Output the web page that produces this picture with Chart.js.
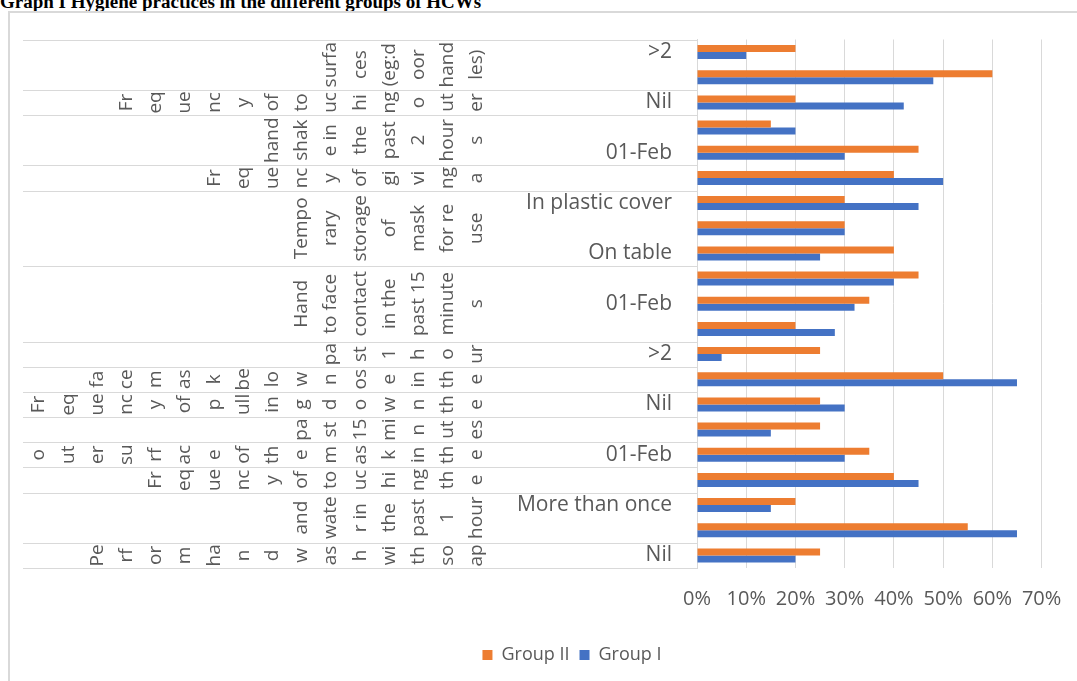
<!DOCTYPE html>
<html>
<head>
<meta charset="utf-8">
<title>Graph I Hygiene practices in the different groups of HCWs</title>
<script src="https://cdn.jsdelivr.net/npm/chart.js@4.4.1/dist/chart.umd.min.js"></script>
<style>
  html, body { margin: 0; padding: 0; background: #fff; overflow: hidden; }
  body { width: 1077px; height: 681px; position: relative; }
  #title {
    position: absolute; left: 0; top: -9px;
    font: bold 19px "Liberation Serif", "Times New Roman", serif;
    color: #000; white-space: nowrap;
  }
  #frame {
    position: absolute; left: 8px; top: 11px;
    width: 1128px; height: 700px;
    border: 2px solid #d9d9d9; box-sizing: border-box;
  }
  #wrap { position: absolute; left: 0; top: 0; width: 1124px; height: 668px; }
</style>
</head>
<body>
<div id="title">Graph I Hygiene practices in the different groups of HCWs</div>
<div id="frame">
  <div id="wrap"><canvas id="chart"></canvas></div>
</div>
<script>
// inner category labels, top to bottom (Excel skipped every other one)
const categories = ['>2', '', 'Nil', '', '01-Feb', '', 'In plastic cover', '', 'On table', '',
  '01-Feb', '', '>2', '', 'Nil', '', '01-Feb', '', 'More than once', '', 'Nil'];

const groupII = [20, 60, 20, 15, 45, 40, 30, 30, 40, 45, 35, 20, 25, 50, 25, 25, 35, 40, 20, 55, 25];
const groupI = [10, 48, 42, 20, 30, 50, 45, 30, 25, 40, 32, 28, 5, 65, 30, 15, 30, 45, 15, 65, 20];

// outer labels as Excel wrapped them ("|" = line break), and how many rows each covers
const outerLabels = [
  'surfa|ces|(eg:d|oor|hand|les)',
  'Fr|eq|ue|nc|y|of|to|uc|hi|ng|o|ut|er',
  'hand|shak|e in|the|past|2|hour|s',
  'Fr|eq|ue|nc|y|of|gi|vi|ng|a',
  'Tempo|rary|storage|of|mask|for re|use',
  'Hand|to face|contact|in the|past 15|minute|s',
  'pa|st|1|h|o|ur',
  'fa|ce|m|as|k|be|lo|w|n|os|e|in|th|e',
  'Fr|eq|ue|nc|y|of|p|ull|in|g|d|o|w|n|th|e',
  'pa|st|15|mi|n|ut|es',
  'o|ut|er|su|rf|ac|e|of|th|e|m|as|k|in|th|e',
  'Fr|eq|ue|nc|y|of|to|uc|hi|ng|th|e',
  'and|wate|r in|the|past|1|hour',
  'Pe|rf|or|m|ha|n|d|w|as|h|wi|th|so|ap'
];
const outerSpans = [2, 1, 2, 1, 3, 3, 1, 1, 1, 1, 1, 1, 2, 1];

const xTicks = [0, 10, 20, 30, 40, 50, 60, 70];

const txtColor = '#595959';
const lineColor = '#d9d9d9';
const fontFamily = '"Open Sans", "Noto Sans", sans-serif';

// draws the second level of the category axis: separators and rotated text
const outerAxis = {
  id: 'outerAxis',
  afterDraw(chart) {
    const ctx = chart.ctx;
    const area = chart.chartArea;
    const rowH = (area.bottom - area.top) / categories.length;
    const x0 = 13;
    const lastCol = area.left - 220;
    const pitch = 29.2;

    ctx.save();
    ctx.strokeStyle = lineColor;
    ctx.lineWidth = 1;
    ctx.beginPath();
    ctx.moveTo(x0, Math.round(area.top) + 0.5);
    ctx.lineTo(area.left, Math.round(area.top) + 0.5);
    ctx.stroke();

    ctx.fillStyle = txtColor;
    ctx.font = '19px ' + fontFamily;
    ctx.textAlign = 'center';
    ctx.textBaseline = 'middle';

    let k = 0;
    outerSpans.forEach((span, g) => {
      const y0 = area.top + k * rowH;
      const y1 = y0 + span * rowH;
      ctx.beginPath();
      ctx.moveTo(x0, Math.round(y1) + 0.5);
      ctx.lineTo(area.left, Math.round(y1) + 0.5);
      ctx.stroke();

      const lines = outerLabels[g].split('|');
      const yc = (y0 + y1) / 2;
      lines.forEach((t, i) => {
        const x = lastCol - (lines.length - 1 - i) * pitch;
        ctx.save();
        ctx.translate(x, yc);
        ctx.rotate(-Math.PI / 2);
        ctx.fillText(t, 0, 0);
        ctx.restore();
      });
      k += span;
    });
    ctx.restore();
  }
};

new Chart(document.getElementById('chart'), {
  type: 'bar',
  data: {
    labels: categories,
    datasets: [
      { label: 'Group II', data: groupII, backgroundColor: '#ED7D31' },
      { label: 'Group I', data: groupI, backgroundColor: '#4472C4' }
    ]
  },
  options: {
    indexAxis: 'y',
    responsive: true,
    maintainAspectRatio: false,
    animation: false,
    layout: { padding: { left: 92.4, right: 92.4, top: 26.5, bottom: 7 } },
    datasets: { bar: { categoryPercentage: 0.556, barPercentage: 1 } },
    scales: {
      x: {
        min: 0, max: 70,
        afterBuildTicks(scale) { scale.ticks = xTicks.map(v => ({ value: v })); },
        afterFit(scale) { scale.height = 68; },
        ticks: {
          callback: v => v + '%',
          color: txtColor,
          font: { family: fontFamily, size: 20 },
          padding: 19,
          maxRotation: 0
        },
        grid: { color: lineColor, lineWidth: 1, drawTicks: false },
        border: { display: false }
      },
      y: {
        afterFit(scale) {
          scale.width = 594.6;
          scale.paddingTop = 0;
          scale.paddingBottom = 0;
        },
        ticks: {
          autoSkip: false,
          color: txtColor,
          font: { family: fontFamily, size: 21 },
          padding: 25
        },
        grid: { display: false, drawTicks: false },
        border: { display: true, color: lineColor, width: 1 }
      }
    },
    plugins: {
      legend: {
        position: 'bottom',
        labels: {
          color: txtColor,
          font: { family: fontFamily, size: 18 },
          boxWidth: 10, boxHeight: 10,
          padding: 10
        }
      },
      tooltip: { enabled: false }
    }
  },
  plugins: [outerAxis]
});
</script>
</body>
</html>
